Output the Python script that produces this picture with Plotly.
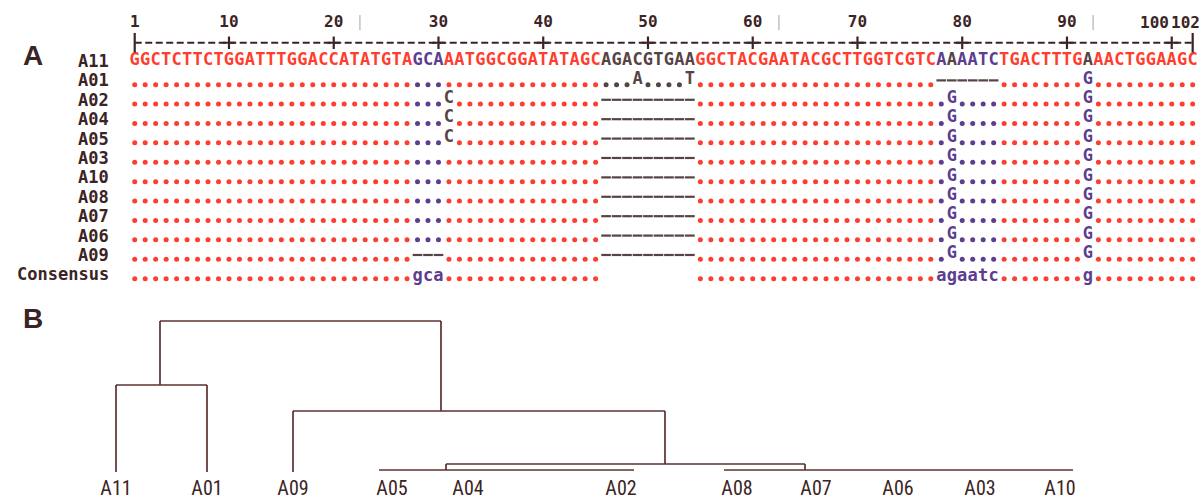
import plotly.graph_objects as go

# ---------------- data: alignment ----------------
ref_name = "A11"
ref_seq = "GGCTCTTCTGGATTTGGACCATATGTAGCAAATGGCGGATATAGCAGACGTGAAGGCTACGAATACGCTTGGTCGTCAAAATCTGACTTTGAAACTGGAAGC"
seq_rows = ["A01", "A02", "A04", "A05", "A03", "A10", "A08", "A07", "A06", "A09"]
row_subs = {
    "A01": {49: "A", 54: "T", 92: "G"},
    "A02": {31: "C", 79: "G", 92: "G"},
    "A04": {31: "C", 79: "G", 92: "G"},
    "A05": {31: "C", 79: "G", 92: "G"},
    "A03": {79: "G", 92: "G"},
    "A10": {79: "G", 92: "G"},
    "A08": {79: "G", 92: "G"},
    "A07": {79: "G", 92: "G"},
    "A06": {79: "G", 92: "G"},
    "A09": {79: "G", 92: "G"},
}
row_gaps = {
    "A01": [78, 79, 80, 81, 82, 83],
    "A02": [46, 47, 48, 49, 50, 51, 52, 53, 54],
    "A04": [46, 47, 48, 49, 50, 51, 52, 53, 54],
    "A05": [46, 47, 48, 49, 50, 51, 52, 53, 54],
    "A03": [46, 47, 48, 49, 50, 51, 52, 53, 54],
    "A10": [46, 47, 48, 49, 50, 51, 52, 53, 54],
    "A08": [46, 47, 48, 49, 50, 51, 52, 53, 54],
    "A07": [46, 47, 48, 49, 50, 51, 52, 53, 54],
    "A06": [46, 47, 48, 49, 50, 51, 52, 53, 54],
    "A09": [28, 29, 30, 46, 47, 48, 49, 50, 51, 52, 53, 54],
}
consensus_name = "Consensus"
consensus_letters = {28: "g", 29: "c", 30: "a", 78: "a", 79: "g", 80: "a",
                     81: "a", 82: "t", 83: "c", 92: "g"}
consensus_blank = [46, 47, 48, 49, 50, 51, 52, 53, 54]
purple_cols = [28, 29, 30, 78, 80, 81, 82, 83]
gray_cols = [46, 47, 48, 49, 50, 51, 52, 53, 54, 79, 92]
ruler_ticks = [1, 10, 20, 30, 40, 50, 60, 70, 80, 90, 100]
ruler_end = 102
ruler_marks = [22.5, 62.5, 92.5]

# ---------------- data: dendrogram ----------------
leaf_names = ["A11", "A01", "A09", "A05", "A04", "A02", "A08", "A07", "A06", "A03", "A10"]
leaf_x = [116, 207, 293, 392, 468, 621, 737, 816, 898, 980, 1060]
node_names = ["n1", "cA", "cB", "n2", "n3", "root"]
node_children = [["A11", "A01"], ["A05", "A04", "A02"],
                 ["A08", "A07", "A06", "A03", "A10"], ["cA", "cB"],
                 ["A09", "n2"], ["n1", "n3"]]
node_height = [87, 2, 2, 8, 61, 151]
node_stem_x = [160, 446, 805, 665, 441, 300]

# ---------------- styles ----------------
RED = "#ff3d2e"
PURPLE = "#5c3d8f"
GRAY = "#564444"
DARK = "#3b2424"
TREE = "#5b3030"
MONO = "DejaVu Sans Mono"
DOT_OFF = 0.22
FLAT_PAD = 13


def col_color(p):
    if p in purple_cols:
        return PURPLE
    if p in gray_cols:
        return GRAY
    return RED


n = len(ref_seq)
letters_x, letters_y, letters_t, letters_c = [], [], [], []
dots_x, dots_y, dots_c = [], [], []
dash_x, dash_y = [], []

# reference row
for i, ch in enumerate(ref_seq):
    p = i + 1
    letters_x.append(p); letters_y.append(0); letters_t.append(ch); letters_c.append(col_color(p))

# other rows
for r, name in enumerate(seq_rows, start=1):
    subs = row_subs[name]
    gaps = row_gaps[name]
    for p in range(1, n + 1):
        if p in gaps:
            dash_x += [p - 0.46, p + 0.46, None]
            dash_y += [r, r, None]
        elif p in subs:
            letters_x.append(p); letters_y.append(r - 0.05); letters_t.append(subs[p])
            letters_c.append(PURPLE if p in consensus_letters else GRAY)
        else:
            dots_x.append(p); dots_y.append(r + DOT_OFF); dots_c.append(col_color(p))

# consensus row
rc = len(seq_rows) + 1
for p in range(1, n + 1):
    if p in consensus_blank:
        continue
    if p in consensus_letters:
        letters_x.append(p); letters_y.append(rc + 0.1); letters_t.append(consensus_letters[p])
        letters_c.append(PURPLE)
    else:
        dots_x.append(p); dots_y.append(rc + DOT_OFF); dots_c.append(col_color(p))

fig = go.Figure()

fig.add_trace(go.Scatter(x=dots_x, y=dots_y, mode="markers",
                         marker=dict(symbol="circle", size=5, color=dots_c, line=dict(width=0)),
                         hoverinfo="skip", showlegend=False))
fig.add_trace(go.Scatter(x=dash_x, y=dash_y, mode="lines",
                         line=dict(color=GRAY, width=2.2), hoverinfo="skip", showlegend=False))
fig.add_trace(go.Scatter(x=letters_x, y=letters_y, mode="text", text=letters_t,
                         textfont=dict(family=MONO, size=17, color=letters_c, weight="bold"),
                         hoverinfo="skip", showlegend=False, cliponaxis=False))

# ruler
RY = -0.94
fig.add_trace(go.Scatter(x=[1, ruler_end], y=[RY, RY], mode="lines",
                         line=dict(color=DARK, width=2.2, dash="7px,3.5px"),
                         hoverinfo="skip", showlegend=False))
fig.add_trace(go.Scatter(x=ruler_ticks[1:], y=[RY] * (len(ruler_ticks) - 1), mode="markers",
                         marker=dict(symbol="cross-thin", size=9, line=dict(color=DARK, width=2.2)),
                         hoverinfo="skip", showlegend=False))
fig.add_trace(go.Scatter(x=[1, ruler_end], y=[RY, RY], mode="markers",
                         marker=dict(symbol="line-ns", size=14, line=dict(color=DARK, width=2.2)),
                         hoverinfo="skip", showlegend=False))
fig.add_trace(go.Scatter(x=ruler_ticks[:-1], y=[-1.98] * (len(ruler_ticks) - 1), mode="text",
                         text=[str(t) for t in ruler_ticks[:-1]],
                         textfont=dict(family=MONO, size=16, color=DARK, weight="bold"),
                         hoverinfo="skip", showlegend=False, cliponaxis=False))
fig.add_annotation(x=ruler_ticks[-1] - 0.05, y=-1.98, xref="x", yref="y",
                   text="<b>%d</b>" % ruler_ticks[-1],
                   showarrow=False, xanchor="right", font=dict(family=MONO, size=16, color=DARK))
fig.add_annotation(x=ruler_end + 0.85, y=-1.98, xref="x", yref="y", text="<b>%d</b>" % ruler_end,
                   showarrow=False, xanchor="right", font=dict(family=MONO, size=16, color=DARK))
fig.add_trace(go.Scatter(x=ruler_marks, y=[-1.98] * len(ruler_marks), mode="markers",
                         marker=dict(symbol="line-ns", size=11, line=dict(color="#c8c0c0", width=1.5)),
                         hoverinfo="skip", showlegend=False))

# row labels
row_labels = [ref_name] + seq_rows + [consensus_name]
for r, lab in enumerate(row_labels):
    fig.add_annotation(x=-1.25, y=r, xref="x", yref="y", text="<b>%s</b>" % lab, showarrow=False,
                       xanchor="right", yanchor="middle",
                       font=dict(family=MONO, size=17, color=DARK))

# ---------------- dendrogram ----------------
pos = {nm: (x, 0) for nm, x in zip(leaf_names, leaf_x)}
for nm, sx, h in zip(node_names, node_stem_x, node_height):
    pos[nm] = (sx, h)
tx, ty = [], []
for nm, ch, h in zip(node_names, node_children, node_height):
    xs = [pos[c][0] for c in ch]
    if h <= 2:
        tx += [min(xs) - FLAT_PAD, max(xs) + FLAT_PAD, None]
        ty += [h, h, None]
        continue
    tx += [min(xs), max(xs), None]
    ty += [h, h, None]
    for c in ch:
        cx, chh = pos[c]
        tx += [cx, cx, None]
        ty += [chh, h, None]
fig.add_trace(go.Scatter(x=tx, y=ty, mode="lines", xaxis="x2", yaxis="y2",
                         line=dict(color=TREE, width=1.7), hoverinfo="skip", showlegend=False))
fig.add_trace(go.Scatter(x=leaf_x, y=[-18] * len(leaf_x), mode="text", text=leaf_names,
                         xaxis="x2", yaxis="y2",
                         textfont=dict(family="Liberation Sans Narrow, Roboto Condensed, Roboto",
                                       size=20, color=DARK),
                         hoverinfo="skip", showlegend=False, cliponaxis=False))

# panel letters
fig.add_annotation(x=21 / 1202, y=1 - 38.5 / 500, xref="paper", yref="paper", text="<b>A</b>",
                   showarrow=False, font=dict(family="Liberation Sans", size=28, color=DARK))
fig.add_annotation(x=21 / 1202, y=1 - 336 / 500, xref="paper", yref="paper", text="<b>B</b>",
                   showarrow=False, font=dict(family="Liberation Sans", size=28, color=DARK))

ax = dict(visible=False, showgrid=False, zeroline=False, fixedrange=True)
fig.update_layout(
    width=1202, height=500, margin=dict(l=0, r=0, t=0, b=0),
    paper_bgcolor="white", plot_bgcolor="white",
    xaxis=dict(range=[-11.86, 102.89], domain=[0, 1], anchor="y", **ax),
    yaxis=dict(range=[12.32, -3.144], domain=[0.4, 1], anchor="x", **ax),
    xaxis2=dict(range=[0, 1202], domain=[0, 1], anchor="y2", **ax),
    yaxis2=dict(range=[-28, 172], domain=[0, 0.4], anchor="x2", **ax),
    showlegend=False,
)

fig.write_html("out.html", post_script="document.body.style.margin='0';",
               config={"displayModeBar": False})
